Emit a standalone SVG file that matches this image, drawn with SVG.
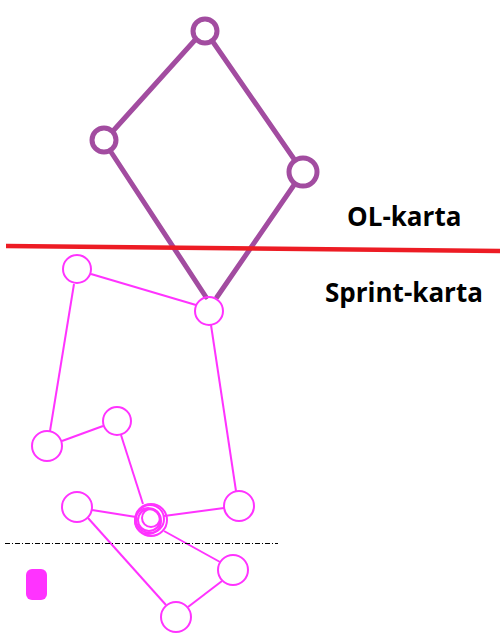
<svg xmlns="http://www.w3.org/2000/svg" width="502" height="635" viewBox="0 0 502 635">
<style>
.ol{fill:none;stroke:#A24CA0;stroke-width:5;stroke-linecap:round}
.sp{fill:none;stroke:#FF33FF;stroke-width:2}
.lbl{font-family:"Open Sans","Liberation Sans",sans-serif;font-weight:bold;font-size:26px;fill:#000}
</style>
<rect width="502" height="635" fill="#fff"/>
<g id="connectors">
<line class="ol" x1="195" y1="40" x2="113" y2="131"/>
<line class="ol" x1="213" y1="42" x2="294" y2="159"/>
<line class="ol" x1="111" y1="152" x2="206" y2="297"/>
<line class="ol" x1="294" y1="185" x2="217" y2="297"/>
<line class="sp" x1="91" y1="274" x2="196" y2="305"/>
<line class="sp" x1="74" y1="284" x2="50" y2="431"/>
<line class="sp" x1="62" y1="441" x2="103" y2="426"/>
<line class="sp" x1="121" y1="435" x2="143" y2="504"/>
<line class="sp" x1="211" y1="325" x2="236" y2="491"/>
<line class="sp" x1="92" y1="510" x2="136" y2="517"/>
<line class="sp" x1="164" y1="516" x2="224" y2="508"/>
<line class="sp" x1="88" y1="518" x2="166" y2="605"/>
<line class="sp" x1="164" y1="531" x2="220" y2="562"/>
<line class="sp" x1="222" y1="581" x2="188" y2="607"/>
</g>
<line id="divider" x1="6" y1="246" x2="500" y2="251" stroke="#ED1C24" stroke-width="4.5"/>
<line id="baseline" x1="5" y1="543.5" x2="278" y2="543.5" stroke="#000" stroke-width="1" stroke-dasharray="5,2,1,2"/>
<g id="ol1"><circle class="ol" cx="205" cy="31" r="12"/></g>
<g id="ol2"><circle class="ol" cx="104" cy="140" r="12"/></g>
<g id="ol3"><circle class="ol" cx="303" cy="172" r="14"/></g>
<g id="sp1"><circle class="sp" cx="77" cy="269" r="14"/></g>
<g id="sp2"><circle class="sp" cx="209" cy="311" r="14"/></g>
<g id="sp3"><circle class="sp" cx="47" cy="446" r="15"/></g>
<g id="sp4"><circle class="sp" cx="117" cy="421" r="14"/></g>
<g id="sp5"><circle class="sp" cx="77" cy="507" r="15"/></g>
<g id="sp6">
<circle class="sp" cx="150" cy="519" r="14"/>
<circle class="sp" cx="149" cy="520" r="11"/>
<circle class="sp" cx="151" cy="518" r="9"/>
<circle class="sp" cx="148" cy="521" r="13"/>
<circle class="sp" cx="151" cy="520" r="16"/>
</g>
<g id="sp7"><circle class="sp" cx="239" cy="506" r="15"/></g>
<g id="sp8"><circle class="sp" cx="233" cy="570" r="15"/></g>
<g id="sp9"><circle class="sp" cx="176" cy="617" r="15"/></g>
<g id="blob"><rect x="26" y="569" width="21" height="31" rx="6" fill="#FF33FF"/></g>
<text class="lbl" x="347" y="226">OL-karta</text>
<text class="lbl" x="325" y="302">Sprint-karta</text>
</svg>
